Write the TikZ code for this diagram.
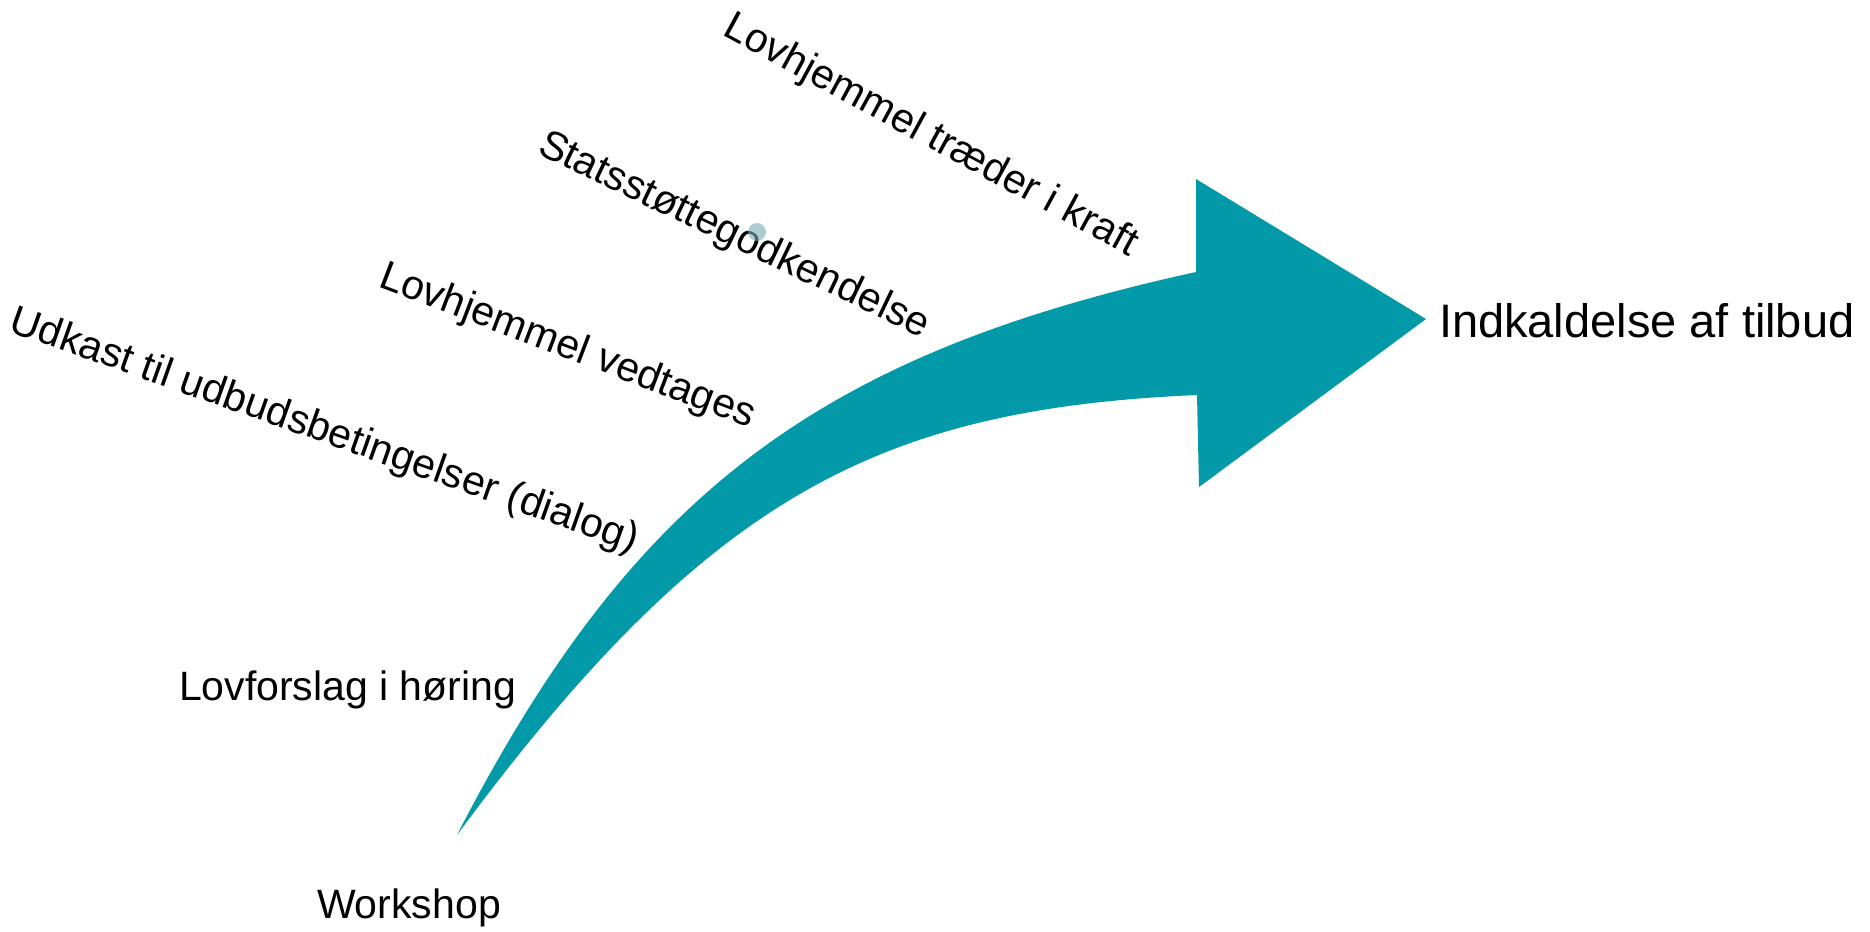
\documentclass[tikz,border=0pt]{standalone}
\usepackage{fontspec}
\setmainfont{Liberation Sans}
\definecolor{arrowteal}{RGB}{2,153,168}
\definecolor{dotblue}{RGB}{122,168,183}
\begin{document}
\begin{tikzpicture}[x=1pt,y=-1pt,
  lbl/.style={inner sep=0pt, outer sep=0pt, anchor=base west, font=\fontsize{41}{49}\selectfont},
  biglbl/.style={inner sep=0pt, outer sep=0pt, anchor=base west, font=\fontsize{47}{56}\selectfont}]
\useasboundingbox (0,0) rectangle (1870,931);
% curved block arrow
\fill[arrowteal] (457,835) .. controls (632,495) and (817,355) .. (1196,272)
  -- (1196,179) -- (1426,319) -- (1199,487) -- (1197,395)
  .. controls (877,409) and (707,497) .. (457,835) -- cycle;
% labels
\node[lbl] (workshop) at (317,918) {Workshop};
\node[lbl] (hoering) at (179,700) {Lovforslag i høring};
\node[lbl, rotate=-19.5] (udkast) at (8,331) {Udkast til udbudsbetingelser (dialog)};
\node[lbl, rotate=-20.9] (vedtages) at (377,286) {Lovhjemmel vedtages};
\node[lbl, rotate=-25.6] (stat) at (536,153) {Statsstøttegodkendelse};
\node[lbl, rotate=-28.5] (kraft) at (721,35) {Lovhjemmel træder i kraft};
\node[biglbl] (indk) at (1439,337) {Indkaldelse af tilbud};
% small marker dot
\fill[dotblue, fill opacity=0.6] (757,232) circle[radius=9pt];
\end{tikzpicture}
\end{document}
